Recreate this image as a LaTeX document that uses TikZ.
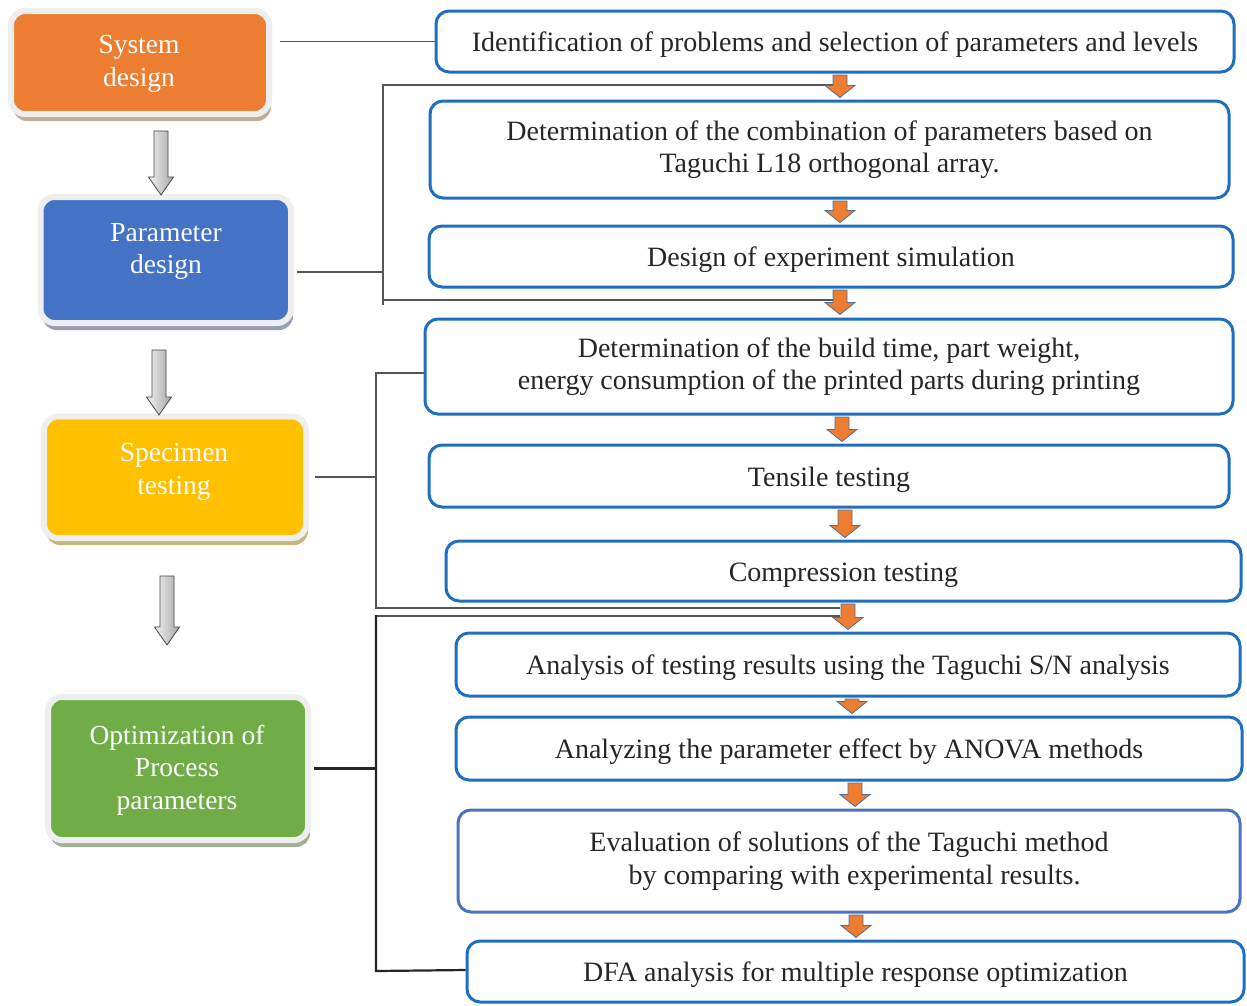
\documentclass[tikz,border=0pt]{standalone}
\usepackage{fontspec}
\setmainfont{Liberation Serif}
\usetikzlibrary{shadows,calc}
\definecolor{borange}{HTML}{ED7D31}
\definecolor{bblue}{HTML}{4472C4}
\definecolor{byellow}{HTML}{FFC000}
\definecolor{bgreen}{HTML}{70AD47}
\definecolor{rbord}{HTML}{1E6FBF}
\definecolor{rbordb}{HTML}{4A72C0}
\definecolor{lineg}{HTML}{555555}
\definecolor{arrbord}{HTML}{4F6F96}
\definecolor{lightb}{HTML}{EEEEEE}
\newcommand\rfont{\fontsize{28}{32.5}\selectfont}
\newcommand\lfont{\fontsize{27.5}{32.5}\selectfont}
\newcommand\oarr[2]{%
  \path[oarrow] let \p1=#1, \p2=#2 in
   (\x1-7pt,\y1) -- (\x1+7pt,\y1) -- (\x1+7pt,\y2+12pt) -- (\x1+15pt,\y2+12pt)
   -- (\x1,\y2) -- (\x1-15pt,\y2+12pt) -- (\x1-7pt,\y2+12pt) -- cycle;}
\newcommand\garr[2]{%
  \path[garrow] let \p1=#1, \p2=#2 in
   (\x1-7pt,\y1) -- (\x1+7pt,\y1) -- (\x1+7pt,\y2+18pt) -- (\x1+12.5pt,\y2+18pt)
   -- (\x1,\y2) -- (\x1-12.5pt,\y2+18pt) -- (\x1-7pt,\y2+18pt) -- cycle;}
\begin{document}
\begin{tikzpicture}[x=1pt,y=-1pt,
  rbox/.style={draw=rbord, line width=3pt, rounded corners=13pt, fill=white,
    align=center, font=\rfont, inner sep=0pt, text=black!85,
    execute at begin node={\rule{0pt}{26.5pt}}},
  rbox2/.style={rbox, execute at begin node={\rule{0pt}{33pt}}},
  lbox/.style={draw=lightb, line width=6pt, rounded corners=14pt, inner sep=0pt},
  ltext/.style={align=center, font=\lfont, text=white, inner sep=0pt},
  brk/.style={draw=lineg, line width=1.8pt},
  brkb/.style={draw=black!85, line width=2.2pt},
  oarrow/.style={fill=borange, draw=arrbord, line width=0.8pt},
  garrow/.style={left color=gray!10, right color=gray!70, draw=gray!55!black, line width=0.8pt}]
\useasboundingbox[fill=white] (0,0) rectangle (1247,1005);

% right boxes
\node[rbox, minimum width=798pt, minimum height=61pt] (r1) at (835,41.5)
  {Identification of problems and selection of parameters and levels};
\node[rbox2, minimum width=799pt, minimum height=97pt] (r2) at (829.5,149.5)
  {Determination of the combination of parameters based on\\Taguchi L18 orthogonal array.};
\node[rbox, minimum width=804pt, minimum height=61pt] (r3) at (831,256.5)
  {Design of experiment simulation};
\node[rbox2, minimum width=808pt, minimum height=95pt] (r4) at (829,366.5)
  {Determination of the build time, part weight,\\energy consumption of the printed parts during printing};
\node[rbox, minimum width=800pt, minimum height=62pt] (r5) at (829,476)
  {Tensile testing};
\node[rbox, minimum width=795pt, minimum height=60pt] (r6) at (843.5,571)
  {Compression testing};
\node[rbox, minimum width=784pt, minimum height=63pt] (r7) at (848,664.5)
  {Analysis of testing results using the Taguchi S/N analysis};
\node[rbox, minimum width=786pt, minimum height=63pt] (r8) at (849,748.5)
  {Analyzing the parameter effect by ANOVA methods};
\node[rbox, draw=rbordb, minimum width=782pt, minimum height=102pt] (r9) at (849,861)
  {Evaluation of solutions of the Taguchi method\\\hspace*{0.4em}by comparing with experimental results.};
\node[rbox, minimum width=777pt, minimum height=61pt] (r10) at (855.5,971.5)
  {DFA analysis for multiple response optimization};

% left boxes
\node[lbox, fill=borange, minimum width=258pt, minimum height=103pt,
  drop shadow={shadow xshift=2pt, shadow yshift=-7pt, fill=brown!55!gray!80, opacity=0.8}] (sys) at (140,62.5) {};
\node[ltext] (systxt) at (139,64) {System\\design};
\node[lbox, fill=bblue, minimum width=250.5pt, minimum height=126pt,
  drop shadow={shadow xshift=2pt, shadow yshift=-7pt, fill=bblue!40!gray!90, opacity=0.8}] (par) at (165.75,260) {};
\node[ltext] (partxt) at (166,251.5) {Parameter\\design};
\node[lbox, fill=byellow, minimum width=262pt, minimum height=121.5pt,
  drop shadow={shadow xshift=2pt, shadow yshift=-7pt, fill=byellow!40!gray!90, opacity=0.8}] (spec) at (175,477.25) {};
\node[ltext] (spectxt) at (174,472) {Specimen\\testing};
\node[lbox, fill=bgreen, minimum width=260pt, minimum height=143pt,
  drop shadow={shadow xshift=2pt, shadow yshift=-7pt, fill=bgreen!40!gray!90, opacity=0.8}] (opt) at (178,768.5) {};
\node[ltext] (opttxt) at (177,770) {Optimization of\\Process\\parameters};

% bracket lines
\draw[brk] (280,0 |- r1.west) -- (r1.west);
\draw[brk] ([xshift=3pt]par.east |- 0,272) -- (383,272);
\draw[brk] (836,85) -- (383,85) -- (383,305);
\draw[brk] (383,300) -- (836,300);
\draw[brk] ([xshift=6pt]spec.east) -- (376,0 |- spec.east);
\draw[brk] (r4.west |- 0,373) -- (376,373) -- (376,608) -- (840,608);
\draw[brkb] ([xshift=3pt]opt.east) -- (376,0 |- opt.east);
\draw[brk] (376,616) -- (840,616);
\draw[brkb] (376,615) -- (376,971) -- (r10.west |- 0,970);

% orange arrows
\oarr{([yshift=-1.5pt]840,0 |- r1.south)}{([yshift=2pt]840,0 |- r2.north)}
\oarr{([yshift=-1.5pt]840,0 |- r2.south)}{([yshift=2pt]840,0 |- r3.north)}
\oarr{([yshift=-1.5pt]840,0 |- r3.south)}{([yshift=3pt]840,0 |- r4.north)}
\oarr{([yshift=-1.5pt]842,0 |- r4.south)}{([yshift=2pt]842,0 |- r5.north)}
\oarr{([yshift=-1.5pt]845,0 |- r5.south)}{([yshift=2pt]845,0 |- r6.north)}
\oarr{([yshift=-1.5pt]848,0 |- r6.south)}{([yshift=2pt]848,0 |- r7.north)}
\oarr{([yshift=-1.5pt]852,0 |- r7.south)}{([yshift=2pt]852,0 |- r8.north)}
\oarr{([yshift=-1.5pt]855,0 |- r8.south)}{([yshift=2pt]855,0 |- r9.north)}
\oarr{([yshift=-1.5pt]856,0 |- r9.south)}{([yshift=2pt]856,0 |- r10.north)}

% gray arrows
\coordinate (g3e) at (167,645);
\garr{($(sys.south)+(21,14)$)}{($(par.north)+(-4.75,1)$)}
\garr{($(par.south)+(-6.75,24)$)}{($(spec.north)+(-16,1.5)$)}
\garr{($(spec.south)+(-8,35)$)}{(g3e)}
\end{tikzpicture}
\end{document}
